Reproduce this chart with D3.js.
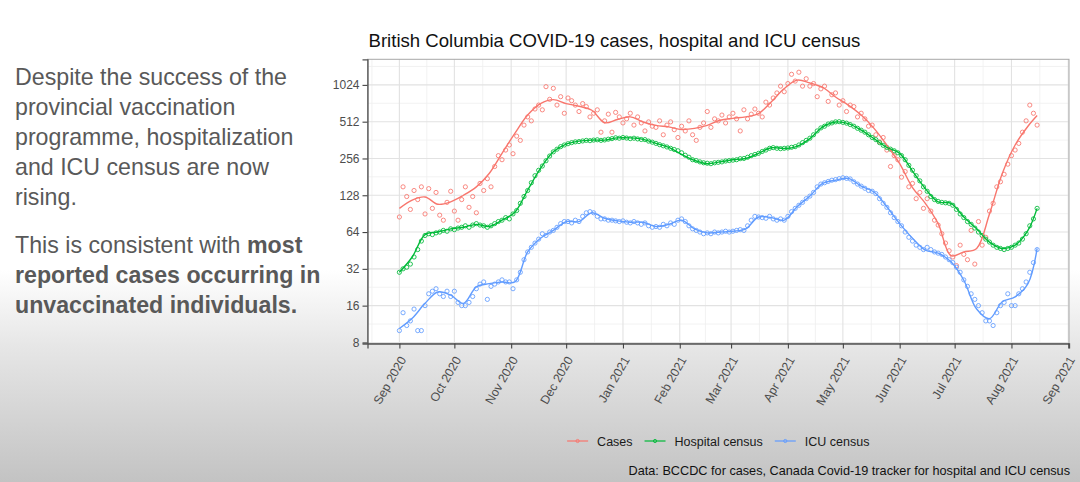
<!DOCTYPE html>
<html>
<head>
<meta charset="utf-8">
<script src="https://cdn.jsdelivr.net/npm/d3@7"></script>
<style>
  html, body { margin: 0; padding: 0; background: #fff; }
  svg { display: block; font-family: "Liberation Sans", Arial, sans-serif; }
</style>
</head>
<body>
<svg id="chart" width="1080" height="482"></svg>
<script>
// ---- data ----
const startDate = new Date(2020, 8, 1);   // first observation, 1 Sep 2020

// smoothed curves, roughly weekly (days since start)
const lineDays = d3.range(0, 344, 7).concat([348]);
const casesLine = [100, 117, 124, 108, 113, 128, 150, 193, 282, 411,
  580, 720, 776, 720, 685, 635, 502, 534, 561, 509,
  478, 464, 442, 451, 478, 526, 545, 561, 597, 744,
  956, 1120, 1063, 975, 815, 700, 580, 451, 329, 232,
  148, 110, 75, 41, 44, 47, 90, 193, 330, 470,
  575];
const hospLine = [30, 40, 61, 64, 68, 70, 74, 71, 80, 93,
  141, 212, 290, 335, 355, 362, 362, 377, 377, 367,
  340, 315, 276, 247, 232, 240, 250, 256, 282, 313,
  309, 322, 372, 464, 509, 494, 436, 372, 315, 282,
  202, 145, 113, 110, 85, 68, 53, 47, 50, 66,
  100];
const icuLine = [10.4, 12.6, 16.7, 20.7, 19.5, 16.7, 22.8, 24.2, 25, 25,
  44, 57, 66, 78, 78, 92, 83, 79, 77, 77,
  71, 74, 80, 68, 63, 64, 65, 68, 85, 84,
  80, 103, 126, 160, 170, 176, 152, 136, 103, 75,
  57, 45.6, 43, 36.5, 25.8, 15, 12.5, 17.2, 18.9, 24.2,
  47];

// daily observations, every second day from the start
const pointStep = 2;
const casesPts = [85, 150, 125, 98, 140, 118, 150, 90, 145, 100,
  135, 88, 80, 112, 138, 95, 80, 118, 150, 102,
  125, 92, 160, 140, 175, 150, 220, 270, 250, 300,
  330, 280, 390, 360, 480, 560, 520, 650, 700, 640,
  990, 780, 960, 700, 820, 600, 800, 760, 700, 620,
  720, 680, 560, 600, 640, 420, 520, 590, 420, 610,
  560, 500, 540, 600, 480, 560, 500, 430, 510, 470,
  460, 520, 400, 480, 510, 440, 380, 470, 430, 520,
  400, 360, 460, 500, 620, 460, 540, 520, 580, 500,
  560, 600, 540, 430, 640, 540, 590, 650, 600, 560,
  740, 700, 800, 880, 1000, 900, 1050, 1250, 1100, 1300,
  1000, 1150, 1000, 1050, 820, 950, 1000, 750, 850, 880,
  700, 760, 620, 700, 680, 560, 600, 540, 470, 480,
  400, 350, 380, 300, 220, 270, 250, 180, 200, 150,
  160, 120, 135, 100, 120, 95, 80, 73, 62, 52,
  45, 40, 34, 50, 42, 38, 66, 35, 78, 50,
  58, 95, 110, 150, 165, 190, 230, 270, 300, 340,
  420, 520, 700, 600, 480];
const hospPts = [30, 32, 33, 35, 40, 46, 54, 60, 62, 61,
  63, 64, 66, 65, 68, 67, 69, 70, 72, 70,
  73, 75, 73, 72, 70, 72, 75, 78, 80, 84,
  82, 90, 96, 110, 125, 140, 162, 185, 205, 222,
  245, 268, 290, 305, 320, 330, 338, 345, 350, 352,
  356, 360, 358, 362, 364, 360, 363, 368, 372, 378,
  375, 380, 376, 372, 375, 370, 366, 365, 355, 348,
  340, 332, 325, 318, 310, 303, 296, 285, 272, 262,
  250, 246, 240, 236, 234, 232, 236, 238, 240, 244,
  246, 248, 250, 255, 256, 262, 270, 276, 282, 292,
  300, 310, 314, 310, 308, 310, 312, 316, 320, 330,
  345, 360, 375, 400, 430, 455, 470, 490, 500, 510,
  512, 505, 498, 485, 470, 452, 436, 420, 400, 380,
  365, 345, 328, 315, 305, 296, 285, 270, 250, 225,
  205, 185, 168, 150, 138, 125, 118, 114, 112, 111,
  110, 106, 98, 90, 84, 78, 74, 69, 64, 60,
  56, 53, 50, 48, 47, 46, 47, 48, 50, 52,
  56, 62, 72, 82, 100];
const icuPts = [10, 14, 11, 12, 15, 10, 10, 16, 20, 21,
  22, 20, 19, 21, 19, 21, 17, 16, 16, 17,
  19, 22, 24, 25, 18, 23, 24, 25, 26, 25,
  25, 22, 26, 30, 38, 44, 48, 52, 56, 62,
  60, 64, 66, 70, 75, 78, 78, 76, 80, 78,
  86, 92, 94, 92, 86, 82, 82, 80, 80, 79,
  78, 79, 77, 76, 78, 76, 74, 76, 72, 70,
  71, 70, 74, 72, 76, 74, 80, 82, 78, 72,
  68, 66, 64, 62, 63, 62, 64, 63, 64, 65,
  64, 65, 66, 67, 66, 72, 80, 86, 85, 84,
  83, 86, 82, 80, 82, 80, 86, 94, 100, 106,
  112, 120, 126, 135, 150, 158, 162, 166, 170, 172,
  175, 178, 176, 174, 165, 158, 152, 146, 140, 138,
  132, 120, 110, 102, 92, 84, 78, 72, 64, 58,
  54, 50, 48, 46, 48, 46, 44, 43, 42, 40,
  38, 36, 33, 30, 26, 23, 20, 18, 16, 14,
  12, 12, 11, 14, 16, 17, 20, 16, 16, 20,
  22, 25, 30, 36, 46];

const seriesNames = ["Cases", "Hospital census", "ICU census"];
const seriesColors = ["#F8766D", "#00BA38", "#619CFF"];

const yTicks = [8, 16, 32, 64, 128, 256, 512, 1024];
const monthTicks = ["2020-09-01", "2020-10-01", "2020-11-01", "2020-12-01", "2021-01-01",
  "2021-02-01", "2021-03-01", "2021-04-01", "2021-05-01", "2021-06-01",
  "2021-07-01", "2021-08-01", "2021-09-01"];

const titleText = "British Columbia COVID-19 cases, hospital and ICU census";
const captionText = "Data: BCCDC for cases, Canada Covid-19 tracker for hospital and ICU census";
const para1 = ["Despite the success of the", "provincial vaccination",
  "programme, hospitalization", "and ICU census are now", "rising."];
// [text, bold]
const para2 = [[["This is consistent with ", false], ["most", true]],
  [["reported cases occurring in", true]],
  [["unvaccinated individuals.", true]]];

// ---- build series ----
const dayToDate = d => d3.timeDay.offset(startDate, d);
const series = [casesPts, hospPts, icuPts].map((pts, i) => ({
  name: seriesNames[i],
  color: seriesColors[i],
  points: pts.map((v, j) => ({date: dayToDate(j * pointStep), value: v})),
  line: [casesLine, hospLine, icuLine][i].map((v, j) => ({date: dayToDate(lineDays[j]), value: v}))
}));

const svg = d3.select("#chart");
const W = 1080, H = 482;
const panel = {left: 367.5, right: 1069, top: 59.3, bottom: 343.5};

// slide background: white fading to grey at the bottom
const defs = svg.append("defs");
const grad = defs.append("linearGradient")
    .attr("id", "bg").attr("x1", 0).attr("y1", 0).attr("x2", 0).attr("y2", 1);
grad.append("stop").attr("offset", 0).attr("stop-color", "#ffffff");
grad.append("stop").attr("offset", 0.56).attr("stop-color", "#ffffff");
grad.append("stop").attr("offset", 0.72).attr("stop-color", "#e6e6e6");
grad.append("stop").attr("offset", 1).attr("stop-color", "#c3c3c3");
svg.append("rect").attr("width", W).attr("height", H).attr("fill", "url(#bg)");

// left hand text
const left = svg.append("g").attr("fill", "#595959").style("font-size", "23.2px");
para1.forEach((t, i) => {
    left.append("text").attr("x", 15).attr("y", 85 + i * 30).text(t);
});
para2.forEach((parts, i) => {
    const t = left.append("text").attr("x", 15).attr("y", 253 + i * 30);
    parts.forEach(p => t.append("tspan").attr("font-weight", p[1] ? "bold" : "normal").text(p[0]));
});

// ---- scales (ggplot-style 5% expansion) ----
const allDates = series.flatMap(s => s.points.map(p => p.date)).concat(series.flatMap(s => s.line.map(p => p.date)));
const [d0, d1] = d3.extent(allDates);
const span = d1 - d0;
const x = d3.scaleTime()
    .domain([new Date(+d0 - span * 0.05), new Date(+d1 + span * 0.05)])
    .range([panel.left, panel.right]);

const allVals = series.flatMap(s => s.points.map(p => p.value));
const [lv0, lv1] = d3.extent(allVals).map(Math.log2);
const lspan = lv1 - lv0;
const y = d3.scaleLog().base(2)
    .domain([Math.pow(2, lv0 - lspan * 0.05), Math.pow(2, lv1 + lspan * 0.05)])
    .range([panel.bottom, panel.top]);

const parseDay = d3.timeParse("%Y-%m-%d");
const monthDates = monthTicks.map(parseDay);

// panel
svg.append("rect")
    .attr("x", panel.left).attr("y", panel.top)
    .attr("width", panel.right - panel.left).attr("height", panel.bottom - panel.top)
    .attr("fill", "#ffffff");

const grid = svg.append("g");
// minor grid
const xMinor = [];
for (let i = 0; i < monthDates.length - 1; i++) {
    xMinor.push(new Date((+monthDates[i] + +monthDates[i + 1]) / 2));
}
xMinor.unshift(new Date(+monthDates[0] - (monthDates[1] - monthDates[0]) / 2));
const yMinor = yTicks.map(v => v * Math.SQRT2);
grid.selectAll(".xminor").data(xMinor.filter(d => x(d) > panel.left && x(d) < panel.right))
    .enter().append("line")
    .attr("x1", d => x(d)).attr("x2", d => x(d))
    .attr("y1", panel.top).attr("y2", panel.bottom)
    .attr("stroke", "#efefef").attr("stroke-width", 0.8);
grid.selectAll(".yminor").data(yMinor.filter(v => y(v) > panel.top))
    .enter().append("line")
    .attr("x1", panel.left).attr("x2", panel.right)
    .attr("y1", d => y(d)).attr("y2", d => y(d))
    .attr("stroke", "#efefef").attr("stroke-width", 0.8);
// major grid
grid.selectAll(".xmajor").data(monthDates.filter(d => x(d) < panel.right))
    .enter().append("line")
    .attr("x1", d => x(d)).attr("x2", d => x(d))
    .attr("y1", panel.top).attr("y2", panel.bottom)
    .attr("stroke", "#e2e2e2").attr("stroke-width", 1.1);
grid.selectAll(".ymajor").data(yTicks)
    .enter().append("line")
    .attr("x1", panel.left).attr("x2", panel.right)
    .attr("y1", d => y(d)).attr("y2", d => y(d))
    .attr("stroke", "#e2e2e2").attr("stroke-width", 1.1);

// points first, then smoothed lines on top
const plot = svg.append("g");
series.forEach(s => {
    plot.append("g").selectAll("circle")
        .data(s.points)
        .enter().append("circle")
        .attr("cx", d => x(d.date))
        .attr("cy", d => y(d.value))
        .attr("r", 2.1)
        .attr("fill", "none")
        .attr("stroke", s.color)
        .attr("stroke-width", 1)
        .attr("opacity", 0.85);
});
const line = d3.line()
    .x(d => x(d.date))
    .y(d => y(d.value))
    .curve(d3.curveCatmullRom.alpha(0.5));
series.forEach(s => {
    plot.append("path")
        .attr("d", line(s.line))
        .attr("fill", "none")
        .attr("stroke", s.color)
        .attr("stroke-width", 1.4);
});

// border + axis lines
svg.append("rect")
    .attr("x", panel.left).attr("y", panel.top)
    .attr("width", panel.right - panel.left).attr("height", panel.bottom - panel.top)
    .attr("fill", "none").attr("stroke", "#a8a8a8").attr("stroke-width", 1);

const yAxis = svg.append("g")
    .attr("transform", `translate(${panel.left},0)`)
    .call(d3.axisLeft(y).tickValues(yTicks).tickFormat(d3.format("d")).tickSize(5).tickPadding(3));
const xAxis = svg.append("g")
    .attr("transform", `translate(0,${panel.bottom})`)
    .call(d3.axisBottom(x).tickValues(monthDates).tickFormat(d3.timeFormat("%b %Y")).tickSize(5));

[yAxis, xAxis].forEach(a => {
    a.select(".domain").attr("stroke", "#555").attr("stroke-width", 1.3);
    a.selectAll(".tick line").attr("stroke", "#444").attr("stroke-width", 1.1);
    a.selectAll(".tick text")
        .attr("fill", "#4d4d4d")
        .style("font-size", "12px")
        .style("font-family", "Liberation Sans, Arial, sans-serif");
});
xAxis.selectAll(".tick text")
    .style("font-size", "12.3px")
    .attr("text-anchor", "end")
    .attr("y", 0).attr("dy", "0.35em")
    .attr("transform", "translate(3,14) rotate(-60)");

// title
svg.append("text")
    .attr("x", 368.5).attr("y", 47)
    .attr("fill", "#111")
    .style("font-size", "18.6px")
    .text(titleText);

// legend, centred under the panel
const legend = svg.append("g").style("font-size", "12.5px");
const keyW = 21, gapKeyText = 9, gapItems = 12;
let lx = 0;
const items = series.map(s => {
    const g = legend.append("g");
    g.append("line")
        .attr("x1", 0).attr("x2", keyW).attr("y1", 0).attr("y2", 0)
        .attr("stroke", s.color).attr("stroke-width", 1.2);
    g.append("circle")
        .attr("cx", keyW / 2).attr("cy", 0).attr("r", 1.6)
        .attr("fill", "none").attr("stroke", s.color).attr("stroke-width", 0.9);
    const t = g.append("text")
        .attr("x", keyW + gapKeyText).attr("y", 4.5)
        .attr("fill", "#1a1a1a")
        .text(s.name);
    const w = keyW + gapKeyText + t.node().getComputedTextLength();
    const item = {g: g, x: lx};
    lx += w + gapItems;
    return item;
});
const legendW = lx - gapItems;
const legendX = (panel.left + panel.right) / 2 - legendW / 2;
items.forEach(it => it.g.attr("transform", `translate(${legendX + it.x},441)`));

// caption
svg.append("text")
    .attr("x", 1070).attr("y", 475)
    .attr("text-anchor", "end")
    .attr("fill", "#111")
    .style("font-size", "12.7px")
    .text(captionText);
</script>
</body>
</html>
